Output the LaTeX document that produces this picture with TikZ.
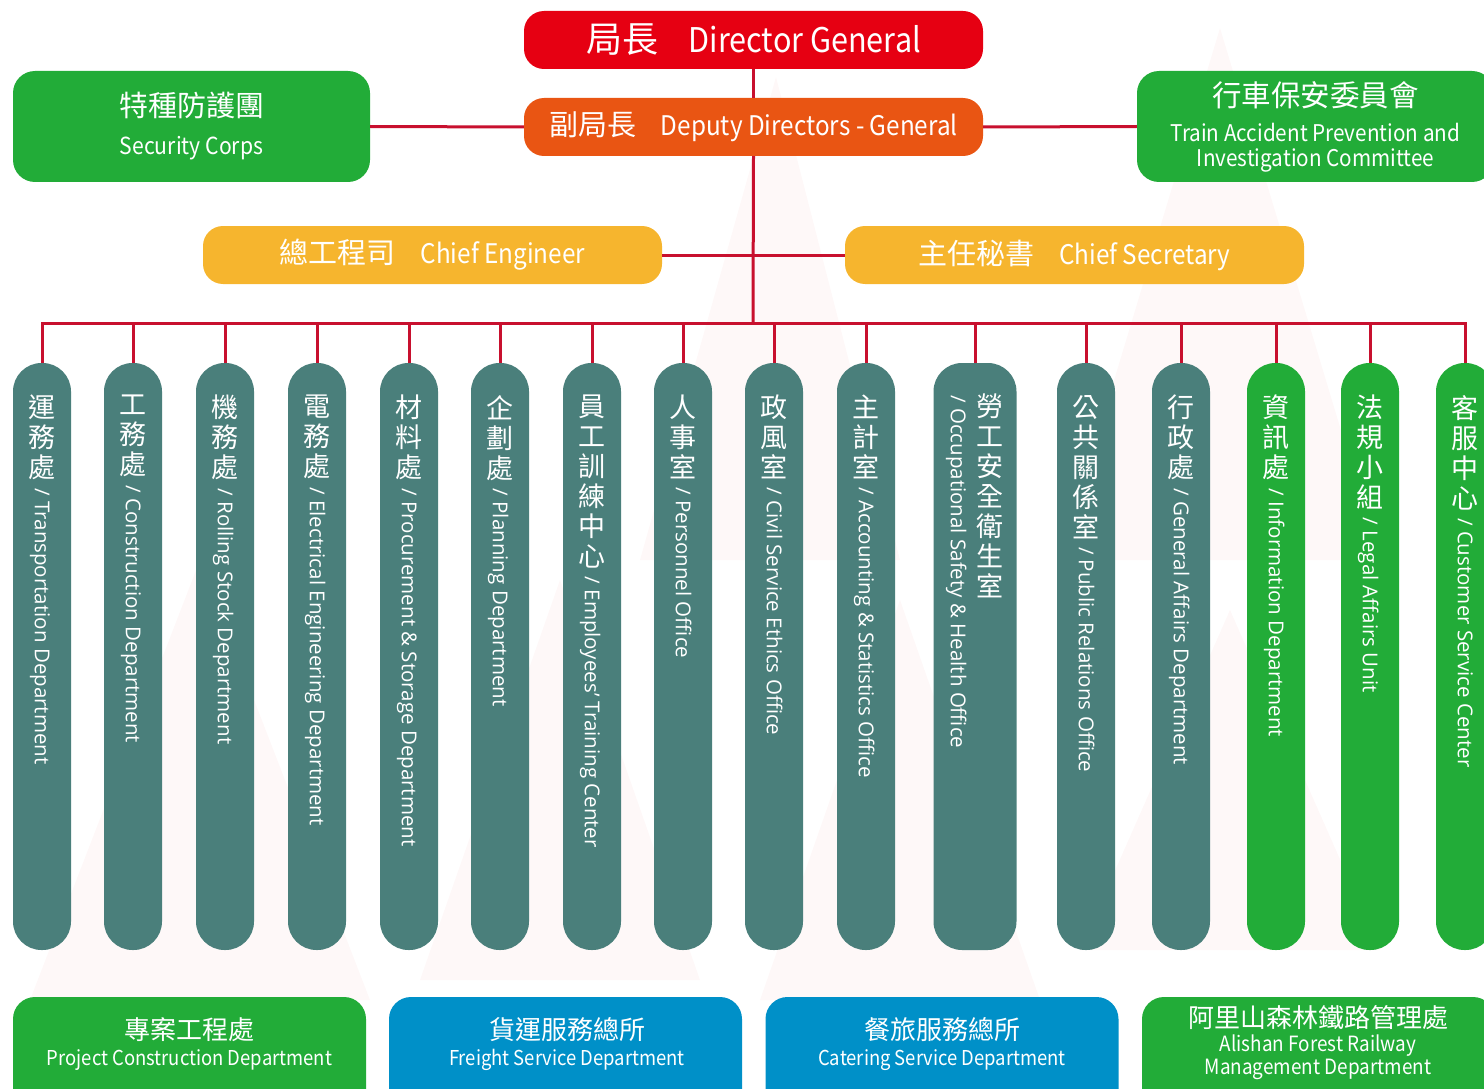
\documentclass[tikz,border=0pt]{standalone}
\usepackage{fontspec}
\setmainfont{Noto Sans CJK TC}
\newfontfamily\enfont{Open Sans}
\newfontfamily\hdfont{Noto Sans CJK TC}[FakeStretch=0.9]
\usetikzlibrary{positioning}

\definecolor{dgred}{HTML}{E60012}
\definecolor{ddorange}{HTML}{E95513}
\definecolor{orggreen}{HTML}{22AC38}
\definecolor{orgyellow}{HTML}{F6B52E}
\definecolor{orgblue}{HTML}{0090C8}
\definecolor{colteal}{HTML}{4A7F7B}
\definecolor{linkred}{HTML}{C8102E}
\definecolor{bgpink}{HTML}{FEF8F8}

\begin{document}
\begin{tikzpicture}[x=1pt, y=-1pt]

	% ---------- Helper styles ----------
	\tikzset{
		lnk/.style={draw=linkred, line width=3pt},
		head/.style={rounded corners=20pt, text=white, align=center, inner sep=0pt,
			minimum width=459pt, minimum height=58pt},
		side/.style={rounded corners=22pt, text=white, align=center, inner sep=0pt,
			minimum width=357pt, minimum height=111pt},
		base/.style={rounded corners=22pt, inner sep=0pt, minimum width=353pt, minimum height=140pt},
		basetxt/.style={text=white, align=center, inner sep=0pt},
		col/.style={rounded corners=28.5pt, inner sep=0pt, minimum width=58pt, minimum height=587pt},
		colzh/.style={text=white, align=center, inner sep=0pt, anchor=north,
			font=\fontsize{27}{30}\selectfont},
		colen/.style={text=white, rotate=-90, anchor=west, inner xsep=8pt, inner ysep=0pt,
			text height=14.5pt, text depth=0pt, font=\enfont\fontsize{20.5}{24}\selectfont}
	}

	\useasboundingbox (0,0) rectangle (1484,1089);

	% ---------- Background ----------
	\fill[bgpink] (1220,28) -- (1060,560) -- (1380,560) -- cycle;
	\fill[bgpink] (776,77) -- (640,560) -- (900,560) -- cycle;
	\fill[bgpink] (1230,610) -- (1080,950) -- (1380,950) -- cycle;
	\fill[bgpink] (200,560) -- (30,1000) -- (370,1000) -- cycle;
	\fill[bgpink] (560,580) -- (420,980) -- (700,980) -- cycle;
	\fill[bgpink] (900,600) -- (760,1000) -- (1040,1000) -- cycle;

	% ---------- Top boxes ----------
	\node[head, fill=dgred, font=\fontsize{36}{40}\selectfont] (dg) at (753.5,40)
		{局長\hspace{0.85em}{\hdfont\fontsize{34}{40}\selectfont Director General}};
	\node[head, fill=ddorange, font=\fontsize{29}{32}\selectfont] (dd) at (753.5,127)
		{副局長\hspace{0.85em}{\hdfont\fontsize{27}{32}\selectfont Deputy Directors - General}};
	\node[side, fill=orggreen, font=\hdfont\fontsize{23.5}{38}\selectfont] (sc) at (191.5,126.5)
		{{\rmfamily\fontsize{29}{38}\selectfont 特種防護團}\\Security Corps};
	\node[side, fill=orggreen, font=\hdfont\fontsize{23}{25}\selectfont] (ta) at (1315.5,126.5)
		{{\rmfamily\fontsize{29.5}{36}\selectfont 行車保安委員會}\\[10pt]Train Accident Prevention and\\Investigation Committee};
	\node[head, fill=orgyellow, font=\fontsize{29}{32}\selectfont] (ce) at (432.5,255)
		{總工程司\hspace{0.85em}{\hdfont\fontsize{27}{32}\selectfont Chief Engineer}};
	\node[head, fill=orgyellow, font=\fontsize{29}{32}\selectfont] (cs) at (1074.5,255)
		{主任秘書\hspace{0.85em}{\hdfont\fontsize{27}{32}\selectfont Chief Secretary}};

	% ---------- Trunk ----------
	\coordinate (bus) at (753,323);
	\draw[lnk] (dg.south) -- (dd.north);
	\draw[lnk] (dd.south) -- (bus);
	\draw[lnk] (sc.east) -- (dd.west);
	\draw[lnk] (dd.east) -- (ta.west);
	\draw[lnk] (ce.east) -- (cs.west);

	% ---------- Columns ----------
	\foreach \i/\x/\c/\zh/\en in {
		1/42/colteal/{運\\務\\處}/{Transportation Department},
		2/133/colteal/{工\\務\\處}/{Construction Department},
		3/225/colteal/{機\\務\\處}/{Rolling Stock Department},
		4/317/colteal/{電\\務\\處}/{Electrical Engineering Department},
		5/409/colteal/{材\\料\\處}/{Procurement \& Storage Department},
		6/500/colteal/{企\\劃\\處}/{Planning Department},
		7/592/colteal/{員\\工\\訓\\練\\中\\心}/{Employees’ Training Center},
		8/683/colteal/{人\\事\\室}/{Personnel Office},
		9/774/colteal/{政\\風\\室}/{Civil Service Ethics Office},
		10/866/colteal/{主\\計\\室}/{Accounting \& Statistics Office},
		12/1086/colteal/{公\\共\\關\\係\\室}/{Public Relations Office},
		13/1181/colteal/{行\\政\\處}/{General Affairs Department},
		14/1276/orggreen/{資\\訊\\處}/{Information Department},
		15/1370/orggreen/{法\\規\\小\\組}/{Legal Affairs Unit},
		16/1465/orggreen/{客\\服\\中\\心}/{Customer Service Center}
	}{
		\node[col, fill=\c] (c\i) at (\x,656.5) {};
		\node[colzh] (z\i) at (\x,395) {\zh};
		\node[colen] (e\i) at (z\i.south) {/ \en};
		\draw[lnk] (c\i.north) -- (c\i.north |- bus);
	}

	% wide column with two text lines
	\node[col, fill=colteal, minimum width=83pt] (c11) at (975,656.5) {};
	\node[colzh] (z11) at (990,394) {勞\\工\\安\\全\\衛\\生\\室};
	\node[colen, inner xsep=0pt] (e11) at (958,395) {/ Occupational Safety \& Health Office};
	\draw[lnk] (c11.north) -- (c11.north |- bus);

	\draw[lnk, line cap=rect] (c1.north |- bus) -- (c16.north |- bus);

	% ---------- Bottom boxes ----------
	\node[base, fill=orggreen] (pc) at (189.5,1067) {};
	\node[base, fill=orgblue] (fs) at (565.5,1067) {};
	\node[base, fill=orgblue] (cs2) at (942,1067) {};
	\node[base, fill=orggreen] (af) at (1318.5,1067) {};

	\node[basetxt, font=\hdfont\fontsize{20.5}{26}\selectfont] (pc-t) at (189.5,1044)
		{{\rmfamily\fontsize{26}{26}\selectfont 專案工程處}\\Project Construction Department};
	\node[basetxt, font=\hdfont\fontsize{20.5}{26}\selectfont] (fs-t) at (567,1044)
		{{\rmfamily\fontsize{26}{26}\selectfont 貨運服務總所}\\Freight Service Department};
	\node[basetxt, font=\hdfont\fontsize{20.5}{26}\selectfont] (cs2-t) at (942,1044)
		{{\rmfamily\fontsize{26}{26}\selectfont 餐旅服務總所}\\Catering Service Department};
	\node[basetxt, font=\hdfont\fontsize{21}{23}\selectfont] (af-t) at (1318,1043)
		{{\rmfamily\fontsize{26}{26}\selectfont 阿里山森林鐵路管理處}\\[1pt]Alishan Forest Railway\\Management Department};

\end{tikzpicture}
\end{document}
